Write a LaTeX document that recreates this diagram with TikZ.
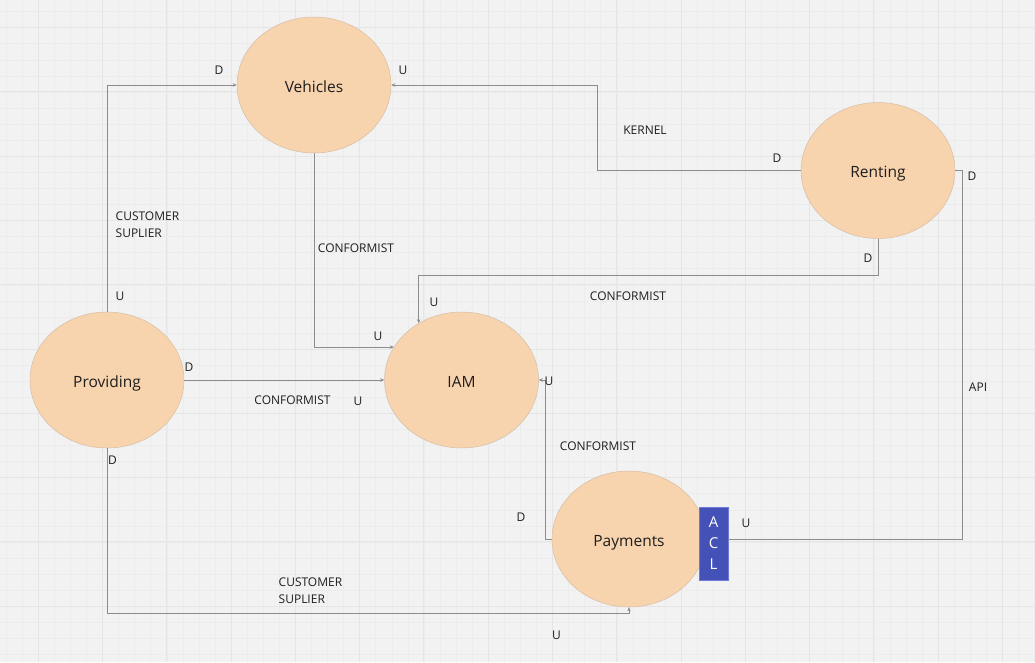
\documentclass[tikz,border=0pt]{standalone}
\usepackage{fontspec}
\setmainfont{Open Sans}
\usetikzlibrary{arrows.meta,shapes.geometric}
\definecolor{bg}{RGB}{242,242,242}
\definecolor{gridminor}{RGB}{236,236,236}
\definecolor{gridmajor}{RGB}{229,229,229}
\definecolor{ctx}{RGB}{247,211,174}
\definecolor{ctxborder}{RGB}{214,190,166}
\definecolor{aclblue}{RGB}{68,82,184}
\definecolor{aclborder}{RGB}{112,122,212}
\definecolor{conncol}{RGB}{140,140,140}
\definecolor{txt}{RGB}{30,30,30}
\begin{document}
\begin{tikzpicture}[x=1pt,y=-1pt,
  ctxnode/.style={ellipse, draw=ctxborder, line width=0.5pt, fill=ctx,
    minimum width=154pt, minimum height=136pt, inner sep=0pt,
    font=\fontsize{15.5}{18}\selectfont, text=txt,
    text height=14.5pt, text depth=0pt},
  aclbox/.style={rectangle, fill=aclblue, draw=aclborder, line width=0.6pt,
    minimum width=29pt, minimum height=73pt, inner sep=0pt, text=white,
    align=center, font=\fontsize{15}{21}\selectfont},
  conn/.style={draw=conncol, line width=0.8pt, -{Stealth[length=4pt,width=3.5pt]}},
  plainconn/.style={draw=conncol, line width=0.8pt},
  lbl/.style={inner sep=0pt, font=\fontsize{12}{14}\selectfont, text=txt,
    text height=8.6pt, text depth=0pt},
  lblw/.style={lbl, anchor=west},
  minorline/.style={draw=gridminor, line width=0.6pt},
  majorline/.style={draw=gridmajor, line width=1pt}
]
\fill[bg] (0,0) rectangle (1035,662);
\useasboundingbox (0,0) rectangle (1035,662);
% grid
\foreach \i in {-2,...,63} \draw[minorline] ({38.3+16.07*\i},0) -- ({38.3+16.07*\i},662);
\foreach \i in {-1,...,40} \draw[minorline] (0,{27.7+16.07*\i}) -- (1035,{27.7+16.07*\i});
\foreach \i in {0,...,15} \draw[majorline] ({38.3+64.28*\i},0) -- ({38.3+64.28*\i},662);
\foreach \i in {0,...,9} \draw[majorline] (0,{27.7+64.28*\i}) -- (1035,{27.7+64.28*\i});

% contexts
\node[ctxnode] (veh) at (314,85) {Vehicles};
\node[ctxnode] (rent) at (878,170.5) {Renting};
\node[ctxnode] (prov) at (107,380) {Providing};
\node[ctxnode] (iam) at (461.5,380) {IAM};
\node[ctxnode] (pay) at (629,539) {Payments};
\node[aclbox] (acl) at (713.5,543.5) {A\\C\\L};

% helper coordinates
\coordinate (jk) at (597,0);
\coordinate (jr) at (0,275);
\coordinate (jp) at (545,0);
\coordinate (jb) at (0,613);
\coordinate (ja) at (962,0);

% connectors
\draw[conn] (prov.north) |- (veh.west);
\draw[conn] (rent.west) -- (rent.west -| jk) |- (veh.east);
\draw[conn] (veh.south) |- (iam.154);
\draw[conn] (rent.south) |- (jr -| iam.127) -- (iam.127);
\draw[conn] (prov.east) -- (iam.west);
\draw[conn] (pay.west) -- (pay.west -| jp) |- (iam.east);
\draw[conn] (prov.south) |- (jb -| pay.south) -- (pay.south);
\draw[plainconn] (rent.east) -- (rent.east -| ja) |- (acl.east |- pay.center);

% labels
\node[lbl] (l1) at (219,70) {D};
\node[lbl] (l2) at (403,70) {U};
\node[lbl] (l3) at (645,130) {KERNEL};
\node[lbl] (l4) at (777,158) {D};
\node[lbl] (l5) at (972,176) {D};
\node[lblw] (l6) at (115.5,216) {CUSTOMER};
\node[lblw] (l7) at (115.5,233) {SUPLIER};
\node[lbl] (l8) at (356,248) {CONFORMIST};
\node[lbl] (l9) at (868,258) {D};
\node[lbl] (l10) at (628,296) {CONFORMIST};
\node[lbl] (l11) at (120,296) {U};
\node[lbl] (l12) at (434,302) {U};
\node[lbl] (l13) at (378,336) {U};
\node[lbl] (l14) at (189,367) {D};
\node[lbl] (l15) at (549,381) {U};
\node[lbl] (l16) at (978,387) {API};
\node[lbl] (l17) at (292.5,400.5) {CONFORMIST};
\node[lbl] (l18) at (358,401) {U};
\node[lbl] (l19) at (598,446.5) {CONFORMIST};
\node[lbl] (l20) at (112.5,460) {D};
\node[lbl] (l21) at (521,517) {D};
\node[lbl] (l22) at (746,523) {U};
\node[lblw] (l23) at (278.5,582) {CUSTOMER};
\node[lblw] (l24) at (278.5,599) {SUPLIER};
\node[lbl] (l25) at (556.5,635) {U};
\end{tikzpicture}
\end{document}
